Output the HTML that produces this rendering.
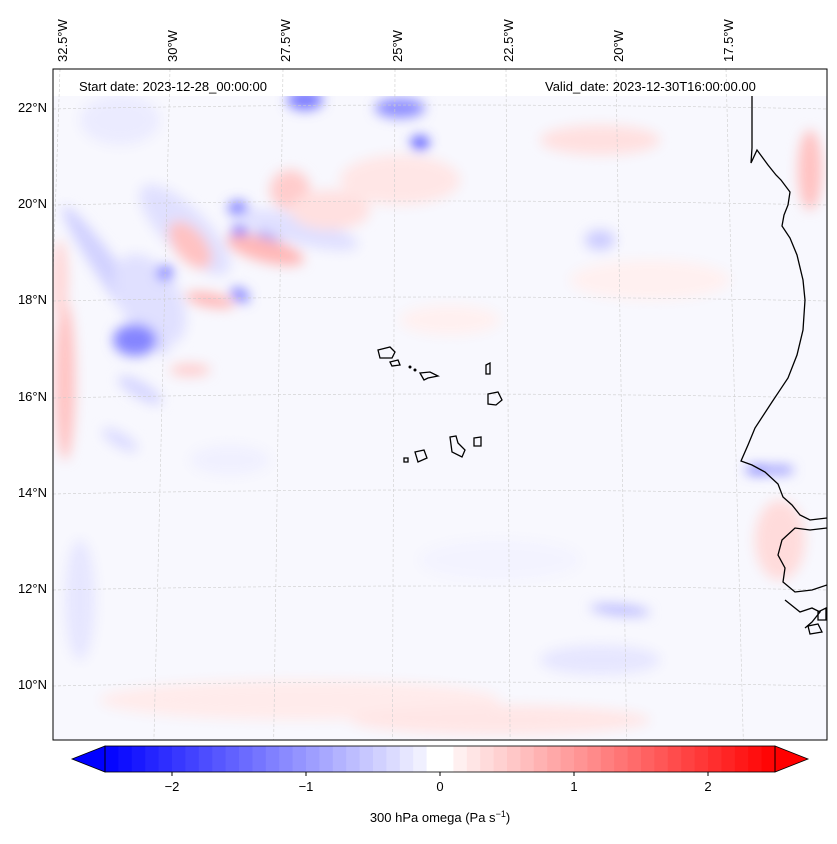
<!DOCTYPE html>
<html><head><meta charset="utf-8"><style>
body{margin:0;background:#fff;width:837px;height:839px;overflow:hidden;font-family:"Liberation Sans",sans-serif}
svg text{font-family:"Liberation Sans",sans-serif;fill:#000}
</style></head><body>
<svg id="s" width="837" height="839">
<defs>
<filter id="b6" x="-50%" y="-50%" width="200%" height="200%"><feGaussianBlur stdDeviation="6"/></filter>
<clipPath id="mc"><rect x="53" y="96" width="774" height="644"/></clipPath>
</defs>
<rect x="53" y="69" width="774" height="27" fill="#fff"/>
<g clip-path="url(#mc)">
<rect x="53" y="96" width="774" height="644" fill="#f8f8fe"/>
<g id="blobs" filter="url(#b6)"></g>
</g>
<g clip-path="url(#mc2)"><g id="grid"></g></g>
<clipPath id="mc2"><rect x="53" y="69" width="774" height="671"/></clipPath>
<g clip-path="url(#mc2)">
<g fill="none" stroke="#000" stroke-width="1.3">
<path d="M752,96 L752,120 L752,148 L751,163 L757,150 L768,165 L776,175 L781,180 L790,192 L788,205 L784,215 L782,226 L790,238 L797,255 L803,280 L805,300 L803,330 L797,355 L788,378 L772,402 L755,428 L748,445 L741,461 L752,465 L765,472 L778,484 L783,497 L792,505 L800,515 L810,520 L827,518"/>
<path d="M827,528 L810,530 L795,528 L782,540 L778,555 L785,568 L783,582 L795,592 L812,590 L827,585"/>
<path d="M785,600 L800,612 L812,608 L820,612 L812,622 L805,628"/>
<path d="M818,612 L826,608 L826,620 L818,620 Z"/>
<path d="M808,626 L818,624 L822,632 L810,634 Z"/>
<path d="M378,350 L390,347 L395,352 L392,358 L380,358 Z"/>
<path d="M390,362 L398,360 L400,365 L392,366 Z"/>
<path d="M420,373 L430,372 L438,376 L428,378 L424,380 Z"/>
<path d="M486,365 L490,363 L490,374 L486,374 Z"/>
<path d="M488,394 L498,392 L502,400 L496,405 L488,404 Z"/>
<path d="M450,437 L456,436 L458,443 L465,450 L462,457 L452,452 Z"/>
<path d="M474,438 L481,437 L481,446 L474,446 Z"/>
<path d="M415,452 L424,450 L427,458 L418,462 Z"/>
<path d="M404,458 L408,458 L408,462 L404,462 Z"/>
</g>
<circle cx="410" cy="367" r="1.5" fill="#000"/><circle cx="415" cy="370" r="1.5" fill="#000"/>
</g>
<rect x="53" y="69" width="774" height="671" fill="none" stroke="#000" stroke-width="1"/>
<text x="79" y="91" font-size="13">Start date: 2023-12-28_00:00:00</text>
<text x="545" y="91" font-size="13">Valid_date: 2023-12-30T16:00:00.00</text>
<g id="lab"></g>
<g id="cb"></g>
<text x="440" y="822" font-size="13" text-anchor="middle">300 hPa omega (Pa s<tspan dy="-5" font-size="9">−1</tspan><tspan dy="5">)</tspan></text>
</svg>
<script>
const NS='http://www.w3.org/2000/svg';
const latTicks=[22,20,18,16,14,12,10];
const latY=[107,203,299,396,492,588,684];
const lonTicks=[32.5,30,27.5,25,22.5,20,17.5];
const lonX=[62,172,285,397,508,618,728];
const cbTicks=[-2,-1,0,1,2];
const cbMin=-2.5, cbMax=2.5, cbStep=0.1;
// blobs: [cx,cy,rx,ry,rotation,value]
const blobs=[
[115,280,12,90,35,-0.45],[150,300,30,50,30,-0.3],[135,340,22,16,0,-1.2],[165,273,8,7,0,-1.4],
[185,230,22,60,45,-0.3],[238,208,10,7,0,-1.3],[240,235,9,10,0,-1.5],[268,237,12,7,-20,-1.2],
[240,295,10,6,-30,-1.3],[300,230,60,14,-15,-0.3],[420,143,9,7,0,-1.7],[400,108,25,10,0,-1.1],
[305,100,18,10,0,-1.3],[140,390,25,8,-30,-0.4],[120,440,20,7,-30,-0.35],[120,120,40,25,0,-0.2],
[65,380,10,80,0,0.6],[60,280,8,40,0,0.4],[190,245,15,28,40,0.6],[265,250,40,12,-15,0.7],
[290,190,20,20,0,0.5],[330,210,40,20,0,0.3],[190,370,20,6,0,0.5],[210,300,25,7,-10,0.7],
[400,180,60,25,0,0.25],[600,140,60,15,0,0.3],[810,170,12,40,0,0.6],[760,470,15,4,0,-1.4],
[780,470,14,4,0,-1.1],[620,610,30,5,-5,-0.7],[300,700,200,20,0,0.2],[500,720,150,15,0,0.25],
[600,660,60,15,0,-0.25],[80,600,15,60,0,-0.25],[600,240,15,10,0,-0.5],[780,540,25,40,0,0.35],
[230,460,40,15,0,-0.15],[500,560,80,20,0,-0.12],[650,280,80,20,0,0.15],[450,320,50,15,0,0.15]];
function col(v){let t=Math.max(-1,Math.min(1,v/2.5));
if(t<0){const a=Math.round((1+t)*255);return `rgb(${a},${a},255)`;}
const a=Math.round((1-t)*255);return `rgb(255,${a},${a})`;}
const bg=document.getElementById('blobs');
blobs.forEach(b=>{const e=document.createElementNS(NS,'ellipse');
e.setAttribute('cx',b[0]);e.setAttribute('cy',b[1]);e.setAttribute('rx',b[2]);e.setAttribute('ry',b[3]);
e.setAttribute('transform',`rotate(${-b[4]} ${b[0]} ${b[1]})`);e.setAttribute('fill',col(b[5]));


bg.appendChild(e);});
const g=document.getElementById('grid'),lab=document.getElementById('lab');
latTicks.forEach((v,i)=>{const y=latY[i];
const l=document.createElementNS(NS,'path');l.setAttribute('d',`M53,${y+2} Q440,${y-6} 827,${y+2}`);
l.setAttribute('stroke','#ccc');l.setAttribute('stroke-width','0.6');l.setAttribute('stroke-dasharray','3,2');l.setAttribute('fill','none');


g.appendChild(l);
const t=document.createElementNS(NS,'text');t.setAttribute('x',47);t.setAttribute('y',y+5);t.setAttribute('font-size','13');t.setAttribute('text-anchor','end');t.textContent=v+'°N';


lab.appendChild(t);});
lonTicks.forEach((v,i)=>{const x=lonX[i];const c=440;
const l=document.createElementNS(NS,'line');l.setAttribute('x1',x-2);l.setAttribute('y1',69);l.setAttribute('x2',x-2+(x-c)*0.06);l.setAttribute('y2',740);
l.setAttribute('stroke','#ccc');l.setAttribute('stroke-width','0.6');l.setAttribute('stroke-dasharray','3,2');


g.appendChild(l);
const t=document.createElementNS(NS,'text');t.setAttribute('transform',`translate(${x+5},62) rotate(-90)`);t.setAttribute('font-size','13');t.textContent=v+'°W';


lab.appendChild(t);});
// colorbar
const cb=document.getElementById('cb');const X0=105,X1=775,Y0=746,H=26;
const sx=v=>X0+(v-cbMin)/(cbMax-cbMin)*(X1-X0);
for(let v=cbMin;v<cbMax-1e-9;v+=cbStep){const r=document.createElementNS(NS,'rect');
const a=sx(v),b=sx(v+cbStep);r.setAttribute('x',a);r.setAttribute('y',Y0);r.setAttribute('width',b-a+0.6);r.setAttribute('height',H);
const m=v+cbStep/2;r.setAttribute('fill',Math.abs(m)<0.1?'#fff':col(m));


cb.appendChild(r);}
[[`M${X0},${Y0} L72,${Y0+H/2} L${X0},${Y0+H} Z`,col(-2.6)],[`M${X1},${Y0} L808,${Y0+H/2} L${X1},${Y0+H} Z`,col(2.6)]].forEach(p=>{
const e=document.createElementNS(NS,'path');e.setAttribute('d',p[0]);e.setAttribute('fill',p[1]);e.setAttribute('stroke','#000');e.setAttribute('stroke-width','0.8');


cb.appendChild(e);});
const fr=document.createElementNS(NS,'rect');fr.setAttribute('x',X0);fr.setAttribute('y',Y0);fr.setAttribute('width',X1-X0);fr.setAttribute('height',H);fr.setAttribute('fill','none');fr.setAttribute('stroke','#000');fr.setAttribute('stroke-width','0.8');


cb.appendChild(fr);
cbTicks.forEach(v=>{const x=sx(v);const l=document.createElementNS(NS,'line');l.setAttribute('x1',x);l.setAttribute('x2',x);l.setAttribute('y1',Y0+H);l.setAttribute('y2',Y0+H+4);l.setAttribute('stroke','#000');


cb.appendChild(l);
const t=document.createElementNS(NS,'text');t.setAttribute('x',x);t.setAttribute('y',Y0+H+19);t.setAttribute('font-size','13');t.setAttribute('text-anchor','middle');t.textContent=v<0?'−'+(-v):String(v);


cb.appendChild(t);});
</script>
</body></html>
